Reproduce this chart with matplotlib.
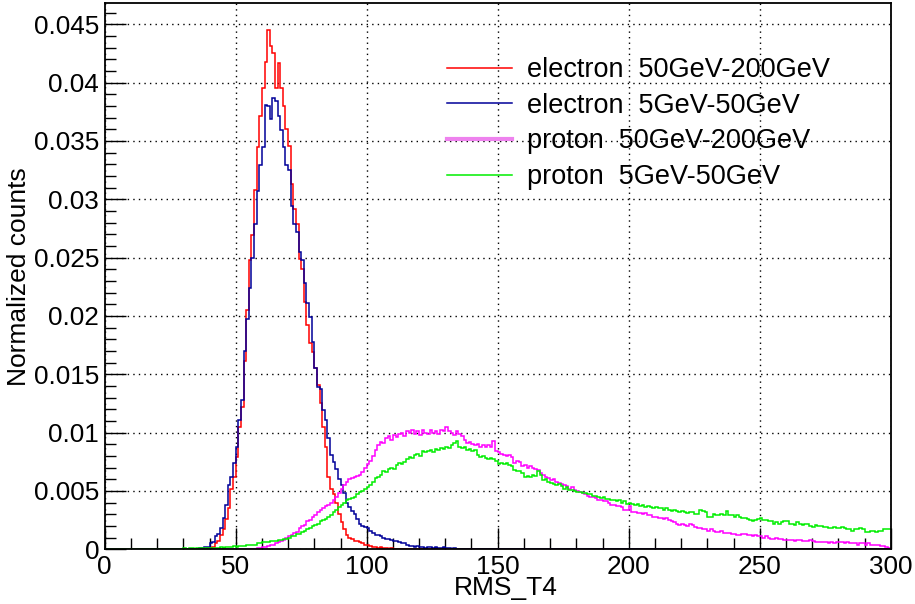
import numpy as np
import matplotlib
matplotlib.use("Agg")
import matplotlib.pyplot as plt
from matplotlib.lines import Line2D
from matplotlib.ticker import MultipleLocator, FuncFormatter

plt.rcParams['font.family'] = ['Liberation Sans', 'DejaVu Sans']

# ---------------- data (300 bins of width 1 over RMS_T4 = 0..300) ----------------
n_bins = 300
x_min, x_max = 0, 300

labels = ["electron  50GeV-200GeV", "electron  5GeV-50GeV",
          "proton  50GeV-200GeV", "proton  5GeV-50GeV"]
colors = ["#ff0000", "#000099", "#ff00ff", "#00ee00"]

# electron 50-200 GeV, first filled bin = 39
e_hi_start = 39
e_hi_vals = [
    0.0001,
    0.0001, 0.0002, 0.0005, 0.0007, 0.0012, 0.0017, 0.0026, 0.0035, 0.0052, 0.0062,
    0.0079, 0.0105, 0.0122, 0.0161, 0.0205, 0.0248, 0.0269, 0.0308, 0.0345, 0.0371,
    0.0395, 0.0418, 0.0445, 0.0431, 0.0425, 0.0395, 0.0417, 0.0395, 0.0380, 0.0360,
    0.0346, 0.0313, 0.0292, 0.0279, 0.0249, 0.0240, 0.0212, 0.0192, 0.0177, 0.0169,
    0.0155, 0.0141, 0.0125, 0.0105, 0.0088, 0.0062, 0.0052, 0.0047, 0.0040, 0.0030,
    0.0023, 0.0017, 0.0012, 0.0010, 0.0009, 0.0007, 0.0007, 0.0006, 0.0005, 0.0004,
    0.0004, 0.0003, 0.0002, 0.0002, 0.0001, 0.0002, 0.0001, 0.0001, 0.0, 0.0001,
]

# electron 5-50 GeV, first filled bin = 36
e_lo_start = 36
e_lo_vals = [
    0.0001, 0.0001, 0.0002, 0.0002,
    0.0005, 0.0006, 0.0011, 0.0013, 0.0018, 0.0027, 0.0038, 0.0055, 0.0062, 0.0074,
    0.0088, 0.0111, 0.0128, 0.0170, 0.0197, 0.0224, 0.0250, 0.0279, 0.0307, 0.0329,
    0.0345, 0.0381, 0.0380, 0.0369, 0.0387, 0.0384, 0.0371, 0.0359, 0.0345, 0.0329,
    0.0325, 0.0294, 0.0279, 0.0272, 0.0255, 0.0248, 0.0228, 0.0211, 0.0199, 0.0178,
    0.0155, 0.0139, 0.0137, 0.0119, 0.0111, 0.0095, 0.0081, 0.0075, 0.0069, 0.0060,
    0.0055, 0.0048, 0.0040, 0.0036, 0.0033, 0.0030, 0.0026, 0.0022, 0.0020, 0.0019,
    0.0018, 0.0016, 0.0014, 0.0012, 0.0012, 0.0011, 0.0010, 0.0009, 0.0009, 0.0008,
    0.0007, 0.0007, 0.0006, 0.0005, 0.0005, 0.0004, 0.0003, 0.0003, 0.0002, 0.0003,
    0.0002, 0.0002, 0.0001, 0.0002, 0.0002, 0.0001, 0.0002, 0.0001, 0.0001, 0.0002,
    0.0001, 0.0001, 0.0, 0.0001,
]

# proton 50-200 GeV, first filled bin = 58
p_hi_start = 58
p_hi_vals = [
    0.0001, 0.0001,
    0.0002, 0.0002, 0.0003, 0.0004, 0.0004, 0.0005, 0.0006, 0.0007, 0.0008, 0.0010,
    0.0011, 0.0012, 0.0014, 0.0015, 0.0018, 0.0020, 0.0021, 0.0024, 0.0025, 0.0028,
    0.0029, 0.0032, 0.0034, 0.0035, 0.0037, 0.0038, 0.0040, 0.0042, 0.0045, 0.0048,
    0.0052, 0.0055, 0.0058, 0.0060, 0.0061, 0.0062, 0.0063, 0.0064, 0.0066, 0.0070,
    0.0073, 0.0076, 0.0080, 0.0085, 0.0089, 0.0092, 0.0091, 0.0095, 0.0097, 0.0094,
    0.0098, 0.0096, 0.0099, 0.0100, 0.0097, 0.0101, 0.0100, 0.0102, 0.0099, 0.0101,
    0.0098, 0.0102, 0.0100, 0.0099, 0.0102, 0.0100, 0.0101, 0.0099, 0.0102, 0.0101,
    0.0105, 0.0101, 0.0100, 0.0098, 0.0101, 0.0099, 0.0097, 0.0094, 0.0091, 0.0092,
    0.0090, 0.0089, 0.0090, 0.0088, 0.0089, 0.0088, 0.0089, 0.0088, 0.0093, 0.0084,
    0.0083, 0.0082, 0.0081, 0.0080, 0.0081, 0.0079, 0.0074, 0.0076, 0.0075, 0.0071,
    0.0072, 0.0070, 0.0071, 0.0070, 0.0069, 0.0068, 0.0065, 0.0064, 0.0062, 0.0061,
    0.0059, 0.0060, 0.0058, 0.0057, 0.0056, 0.0055, 0.0054, 0.0052, 0.0053, 0.0051,
    0.0050, 0.0049, 0.0048, 0.0047, 0.0046, 0.0045, 0.0045, 0.0044, 0.0042, 0.0042,
    0.0041, 0.0041, 0.0040, 0.0038, 0.0038, 0.0037, 0.0037, 0.0036, 0.0034, 0.0034,
    0.0037, 0.0032, 0.0032, 0.0031, 0.0031, 0.0030, 0.0031, 0.0029, 0.0029, 0.0028,
    0.0028, 0.0027, 0.0027, 0.0026, 0.0027, 0.0025, 0.0024, 0.0023, 0.0022, 0.0021,
    0.0022, 0.0021, 0.0020, 0.0022, 0.0021, 0.0019, 0.0018, 0.0018, 0.0017, 0.0017,
    0.0016, 0.0017, 0.0016, 0.0015, 0.0015, 0.0016, 0.0014, 0.0014, 0.0014, 0.0013,
    0.0013, 0.0012, 0.0012, 0.0013, 0.0013, 0.0012, 0.0012, 0.0011, 0.0012, 0.0011,
    0.0011, 0.0010, 0.0011, 0.0010, 0.0009, 0.0009, 0.0010, 0.0009, 0.0009, 0.0008,
    0.0008, 0.0008, 0.0008, 0.0007, 0.0008, 0.0008, 0.0007, 0.0007, 0.0007, 0.0008,
    0.0007, 0.0006, 0.0006, 0.0006, 0.0006, 0.0006, 0.0005, 0.0006, 0.0005, 0.0006,
    0.0006, 0.0006, 0.0005, 0.0006, 0.0005, 0.0005, 0.0005, 0.0004, 0.0005, 0.0005,
    0.0004, 0.0005, 0.0004, 0.0004, 0.0004, 0.0004, 0.0003, 0.0003, 0.0002, 0.0001,
]

# proton 5-50 GeV, first filled bin = 28
p_lo_start = 28
p_lo_vals = [
    0.00005, 0.00005,
    0.0001, 0.00005, 0.0001, 0.0001, 0.00005, 0.0001, 0.0001, 0.0001, 0.0001, 0.00015,
    0.0001, 0.00015, 0.0001, 0.00015, 0.0002, 0.00015, 0.0002, 0.0002, 0.0002, 0.00025,
    0.0002, 0.0003, 0.0003, 0.0003, 0.00035, 0.0004, 0.0004, 0.0004, 0.0005, 0.0005,
    0.0006, 0.0006, 0.0006, 0.0007, 0.0007, 0.0007, 0.0008, 0.0008, 0.0009, 0.0009,
    0.0010, 0.0011, 0.0011, 0.0013, 0.0013, 0.0015, 0.0016, 0.0017, 0.0018, 0.0020,
    0.0021, 0.0022, 0.0024, 0.0025, 0.0026, 0.0028, 0.0029, 0.0032, 0.0034, 0.0036,
    0.0038, 0.0040, 0.0042, 0.0043, 0.0044, 0.0045, 0.0047, 0.0049, 0.0050, 0.0052,
    0.0053, 0.0055, 0.0058, 0.0061, 0.0062, 0.0064, 0.0067, 0.0066, 0.0069, 0.0070,
    0.0069, 0.0072, 0.0074, 0.0073, 0.0075, 0.0077, 0.0079, 0.0078, 0.0081, 0.0082,
    0.0080, 0.0084, 0.0083, 0.0084, 0.0085, 0.0083, 0.0086, 0.0085, 0.0087, 0.0086,
    0.0088, 0.0087, 0.0089, 0.0091, 0.0093, 0.0088, 0.0087, 0.0088, 0.0085, 0.0086,
    0.0084, 0.0085, 0.0081, 0.0079, 0.0080, 0.0078, 0.0077, 0.0078, 0.0077, 0.0076,
    0.0073, 0.0074, 0.0073, 0.0074, 0.0072, 0.0071, 0.0068, 0.0067, 0.0067, 0.0065,
    0.0062, 0.0063, 0.0062, 0.0064, 0.0063, 0.0067, 0.0064, 0.0059, 0.0060, 0.0058,
    0.0057, 0.0056, 0.0055, 0.0056, 0.0054, 0.0052, 0.0053, 0.0051, 0.0051, 0.0050,
    0.0049, 0.0049, 0.0048, 0.0048, 0.0047, 0.0047, 0.0046, 0.0046, 0.0045, 0.0044,
    0.0045, 0.0043, 0.0043, 0.0042, 0.0042, 0.0041, 0.0042, 0.0040, 0.0041, 0.0039,
    0.0040, 0.0039, 0.0038, 0.0039, 0.0037, 0.0038, 0.0036, 0.0037, 0.0036, 0.0035,
    0.0036, 0.0035, 0.0035, 0.0034, 0.0035, 0.0034, 0.0033, 0.0034, 0.0033, 0.0032,
    0.0033, 0.0032, 0.0031, 0.0032, 0.0032, 0.0030, 0.0030, 0.0034, 0.0033, 0.0032,
    0.0028, 0.0028, 0.0030, 0.0029, 0.0029, 0.0030, 0.0029, 0.0033, 0.0029, 0.0029,
    0.0028, 0.0029, 0.0028, 0.0027, 0.0027, 0.0026, 0.0025, 0.0024, 0.0025, 0.0026,
    0.0027, 0.0025, 0.0025, 0.0024, 0.0024, 0.0022, 0.0023, 0.0022, 0.0023, 0.0024,
    0.0024, 0.0022, 0.0022, 0.0021, 0.0023, 0.0022, 0.0021, 0.0022, 0.0022, 0.0020,
    0.0019, 0.0021, 0.0020, 0.0020, 0.0019, 0.0019, 0.0018, 0.0018, 0.0019, 0.0018,
    0.0018, 0.0019, 0.0018, 0.0017, 0.0017, 0.0016, 0.0017, 0.0017, 0.0018, 0.0017,
    0.0015, 0.0015, 0.0016, 0.0016, 0.0015, 0.0016, 0.0016, 0.0017, 0.0017, 0.0017,
]

x_ticks = [0, 50, 100, 150, 200, 250, 300]
y_ticks = [0, 0.005, 0.01, 0.015, 0.02, 0.025, 0.03, 0.035, 0.04, 0.045]
y_max = 0.0468


def full_hist(start, vals):
    h = np.zeros(n_bins)
    h[start:start + len(vals)] = vals
    return h


edges = np.linspace(x_min, x_max, n_bins + 1)
series = [full_hist(e_hi_start, e_hi_vals), full_hist(e_lo_start, e_lo_vals),
          full_hist(p_hi_start, p_hi_vals), full_hist(p_lo_start, p_lo_vals)]

# ---------------- figure ----------------
W, H = 915, 604
fig = plt.figure(figsize=(W / 100, H / 100), dpi=100)
ax = fig.add_axes([104.7 / W, 1 - 549.3 / H, (890.7 - 104.7) / W, (549.3 - 3.3) / H])

for vals, c in zip(series, colors):
    ax.stairs(vals, edges, color=c, linewidth=1.1, baseline=None, zorder=3)

ax.set_xlim(x_min, x_max)
ax.set_ylim(0, y_max)
ax.set_xticks(x_ticks)
ax.set_yticks(y_ticks)
ax.xaxis.set_minor_locator(MultipleLocator(10))
ax.yaxis.set_minor_locator(MultipleLocator(0.001))
ax.yaxis.set_major_formatter(FuncFormatter(lambda v, p: f"{v:g}"))
ax.xaxis.set_major_formatter(FuncFormatter(lambda v, p: f"{v:g}"))

ax.tick_params(which='major', direction='in', length=15, width=1.0,
               labelsize=18.8, top=False, right=False, pad=4)
ax.tick_params(which='minor', direction='in', length=8, width=1.0,
               top=False, right=False)

ax.grid(True, which='major', color='black', linestyle=(0, (1, 3)), linewidth=1.0)
ax.set_axisbelow(True)
for s in ax.spines.values():
    s.set_linewidth(1.3)
    s.set_zorder(4)

ax.set_xlabel("RMS_T4", fontsize=19)
ax.xaxis.set_label_coords(0.51, -0.049)
ax.set_ylabel("Normalized counts", fontsize=19, labelpad=2)

handles = [Line2D([], [], color=c, linewidth=1.1) for c in colors]
handles[2] = Line2D([], [], color="#ee82ee", linewidth=3)
leg = ax.legend(handles, labels, loc='upper left',
                bbox_to_anchor=(447 / W, 1 - 57 / H), bbox_transform=fig.transFigure,
                frameon=False, fontsize=19.5, handlelength=2.4, handletextpad=0.55,
                labelspacing=0.36, borderpad=0, borderaxespad=0)

fig.savefig("out.png", dpi=100)
